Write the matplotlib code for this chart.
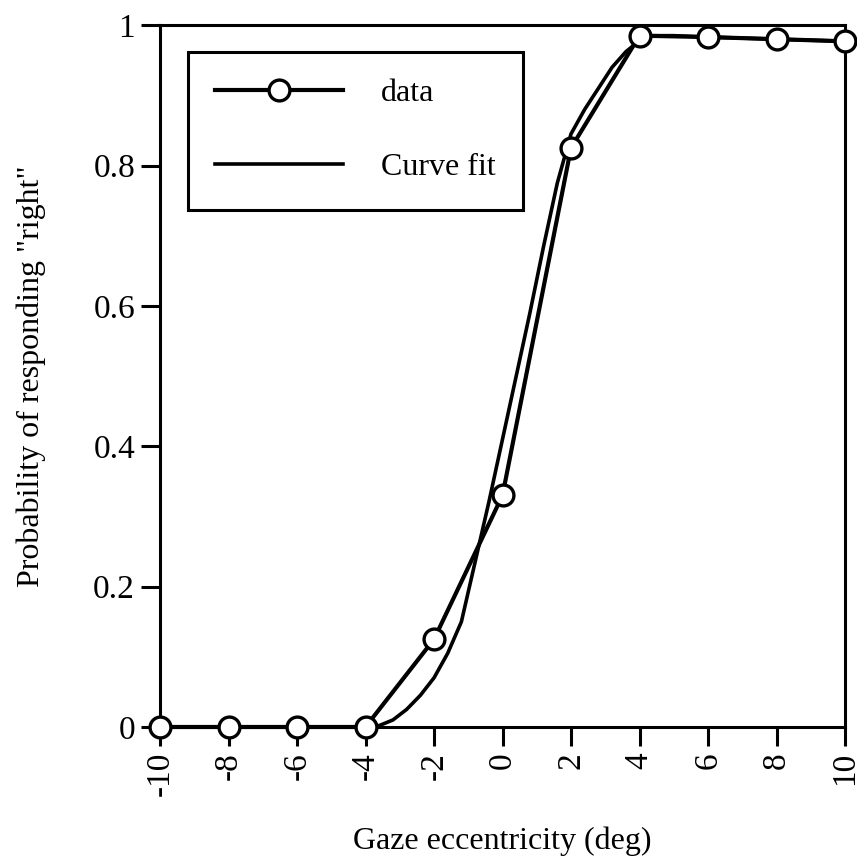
import matplotlib.pyplot as plt

# Observed proportion of "right" responses at each gaze eccentricity
gaze_deg = [-10, -8, -6, -4, -2, 0, 2, 4, 6, 8, 10]
p_right = [0.0, 0.0, 0.0, 0.0, 0.125, 0.33, 0.825, 0.985, 0.983, 0.98, 0.977]

# Fitted psychometric curve, sampled along the eccentricity axis
fit_deg = [-10, -4, -3.6, -3.2, -2.8, -2.4, -2.0, -1.6, -1.2, -0.8, -0.4,
           0.0, 0.4, 0.8, 1.2, 1.6, 2.0, 2.4, 2.8, 3.2, 3.6, 4.0, 4.4,
           5.0, 6.0, 8.0, 10.0]
fit_p = [0.0, 0.0, 0.002, 0.01, 0.025, 0.045, 0.07, 0.105, 0.15, 0.235, 0.32,
         0.41, 0.50, 0.59, 0.685, 0.775, 0.845, 0.88, 0.91, 0.94, 0.962, 0.978, 0.985,
         0.985, 0.983, 0.98, 0.977]

x_ticks = [-10, -8, -6, -4, -2, 0, 2, 4, 6, 8, 10]
y_ticks = [0, 0.2, 0.4, 0.6, 0.8, 1]
y_ticklabels = ["0", "0.2", "0.4", "0.6", "0.8", "1"]

plt.rcParams['font.family'] = ['Liberation Serif', 'DejaVu Serif']

fig = plt.figure(figsize=(8.57, 8.58), dpi=100)
ax = fig.add_axes([0.1867, 0.1527, 0.7993, 0.818])

ax.plot(gaze_deg, p_right, color='black', linewidth=3.0, marker='o',
        markersize=15, markerfacecolor='white', markeredgecolor='black',
        markeredgewidth=2.4, label='data', clip_on=False, zorder=3)
ax.plot(fit_deg, fit_p, color='black', linewidth=2.6, label='Curve fit',
        clip_on=False, zorder=2)

ax.set_xlim(-10, 10)
ax.set_ylim(0, 1)
ax.set_xticks(x_ticks)
ax.set_xticklabels([str(t) for t in x_ticks], rotation=90)
ax.set_yticks(y_ticks)
ax.set_yticklabels(y_ticklabels)
ax.tick_params(direction='out', length=14, width=2.2, labelsize=24, pad=4)

for side in ax.spines.values():
    side.set_linewidth(2.2)

ax.set_xlabel("Gaze eccentricity (deg)", fontsize=23, labelpad=22)
ax.set_ylabel('Probability of responding "right"', fontsize=23, labelpad=34)

leg = ax.legend(loc='upper left', bbox_to_anchor=(0.041, 0.962), fontsize=23,
                frameon=True, fancybox=False, handlelength=4.0,
                handletextpad=1.2, labelspacing=1.4, borderpad=0.85,
                borderaxespad=0.0)
leg.get_frame().set_edgecolor('black')
leg.get_frame().set_linewidth(2.2)
leg.get_frame().set_alpha(1.0)

plt.savefig("out.png")
